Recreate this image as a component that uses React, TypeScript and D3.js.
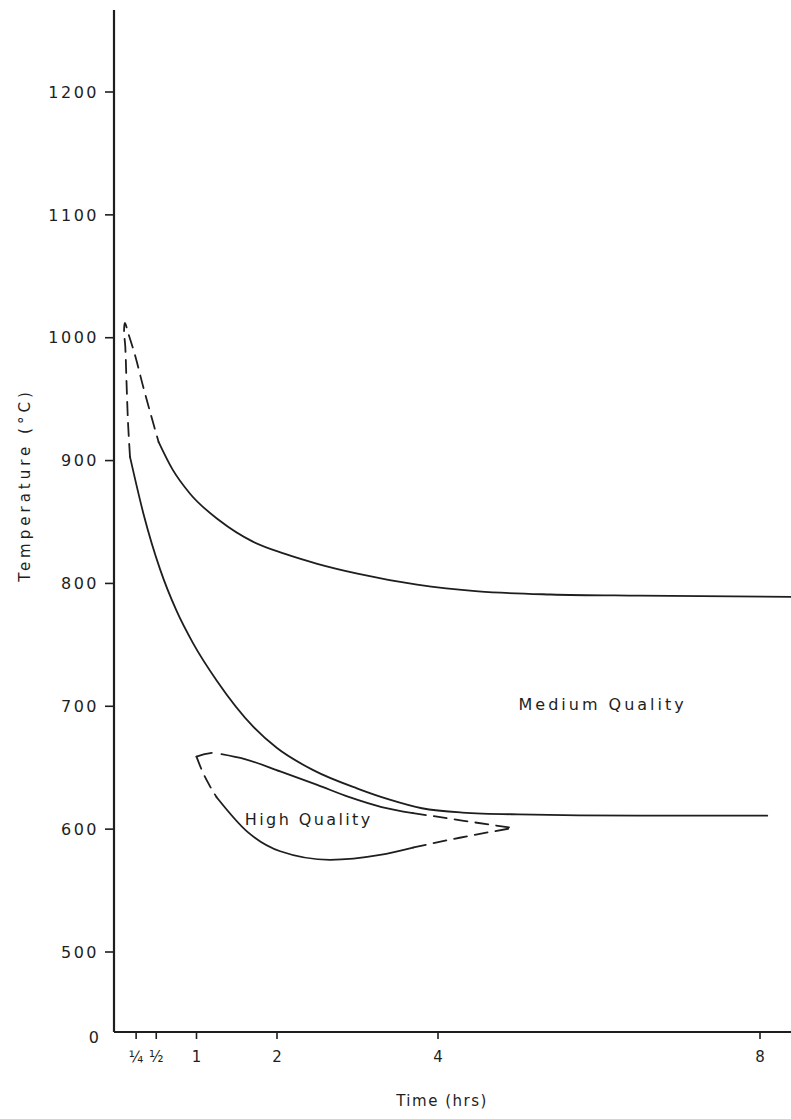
import React from "react";
import * as d3 from "d3";

// ---- data (time in hours, temperature in °C) ----
const xTickValues = [0.25, 0.5, 1, 2, 4, 8];
const xTickLabels = ["¼", "½", "1", "2", "4", "8"];
const yTickValues = [500, 600, 700, 800, 900, 1000, 1100, 1200];

// dashed start of the two boundary curves (joined at the apex)
const apexDashed: [number, number][] = [
  [0.174, 903], [0.15, 930], [0.13, 965], [0.115, 993], [0.1, 1005], [0.11, 1012],
  [0.16, 1002], [0.24, 985], [0.33, 962], [0.43, 938], [0.53, 915],
];
// upper boundary (solid)
const upperCurve: [number, number][] = [
  [0.53, 915], [0.7, 893], [0.92, 873], [1.29, 851], [1.7, 834], [2.1, 824],
  [2.5, 816], [3.0, 808], [3.74, 799], [4.5, 793.5], [5.4, 791], [6.5, 790], [8.4, 789],
];
// lower boundary (solid)
const lowerCurve: [number, number][] = [
  [0.174, 903], [0.34, 857], [0.55, 811], [0.75, 778], [0.96, 751], [1.25, 721],
  [1.71, 683], [2.0, 666], [2.45, 648], [3.0, 633], [3.4, 624], [3.8, 617],
  [4.3, 613.5], [5.0, 612], [6.5, 611], [8.09, 611],
];
// high quality loop
const loopTopDashLeft: [number, number][] = [[1.0, 659], [1.1, 661], [1.19, 662]];
const loopTopSolid: [number, number][] = [
  [1.31, 661], [1.6, 657], [2.04, 647], [2.5, 636], [2.9, 626], [3.3, 618], [3.69, 613],
];
const loopTopDashRight: [number, number][] = [[3.69, 613], [3.9, 611], [4.3, 607], [4.93, 601]];
const loopBottomDashLeft: [number, number][] = [[1.0, 659], [1.06, 649], [1.15, 637], [1.25, 626]];
const loopBottomSolid: [number, number][] = [
  [1.25, 626], [1.63, 598], [2.04, 582], [2.66, 575], [3.28, 579], [3.69, 585],
];
const loopBottomDashRight: [number, number][] = [[3.69, 585], [4.27, 593], [4.93, 601]];

const regionLabels = [
  { text: "Medium Quality", t: 5.0, T: 697, ls: 3 },
  { text: "High Quality", t: 1.6, T: 603, ls: 2.4 },
];

const W = 791;
const H = 1119;
const INK = "#1e1e1e";

export default function App() {
  const x = d3.scaleLinear().domain([0, 8]).range([116, 760]);
  const y = d3.scaleLinear().domain([0, 500, 1200]).range([1032, 952, 92]);
  const axisX = 114;
  const axisY = y(0);

  const smooth = d3
    .line<[number, number]>()
    .x((d) => x(d[0]))
    .y((d) => y(d[1]))
    .curve(d3.curveMonotoneX);
  const free = d3
    .line<[number, number]>()
    .x((d) => x(d[0]))
    .y((d) => y(d[1]))
    .curve(d3.curveCatmullRom.alpha(0.5));

  const font = "'DejaVu Sans', sans-serif";
  const dash = "13 8";

  return (
    <svg
      width={W}
      height={H}
      style={{ position: "absolute", left: 0, top: 0, background: "#fff" }}
      fontFamily={font}
    >
      <rect width={W} height={H} fill="#fff" />
      {/* axes */}
      <line x1={axisX} y1={10} x2={axisX} y2={axisY} stroke={INK} strokeWidth={2.2} />
      <line x1={axisX} y1={axisY} x2={W} y2={axisY} stroke={INK} strokeWidth={2} />

      {/* y ticks */}
      {yTickValues.map((v) => (
        <g key={v}>
          <line x1={axisX - 9} x2={axisX} y1={y(v)} y2={y(v)} stroke={INK} strokeWidth={1.6} />
          <text
            x={99}
            y={y(v)}
            dy="0.36em"
            textAnchor="end"
            fontSize={16}
            letterSpacing={2.5}
            fill={INK}
          >
            {v}
          </text>
        </g>
      ))}
      <text x={99} y={axisY + 5} dy="0.36em" textAnchor="end" fontSize={16} fill={INK}>
        0
      </text>

      {/* x ticks */}
      {xTickValues.map((v, i) => (
        <g key={v}>
          <line x1={x(v)} x2={x(v)} y1={axisY} y2={axisY + 7} stroke={INK} strokeWidth={1.6} />
          <text x={x(v)} y={axisY + 30} textAnchor="middle" fontSize={15} fill={INK}>
            {xTickLabels[i]}
          </text>
        </g>
      ))}

      {/* axis titles */}
      <text x={442} y={1106} textAnchor="middle" fontSize={15} letterSpacing={1.5} fill={INK}>
        Time (hrs)
      </text>
      <text
        transform={`translate(30, 485) rotate(-90)`}
        textAnchor="middle"
        fontSize={15}
        letterSpacing={4}
        fill={INK}
      >
        Temperature (°C)
      </text>

      {/* curves */}
      <g fill="none" stroke={INK} strokeWidth={1.8} strokeLinecap="round">
        <path d={free(apexDashed) || ""} strokeDasharray={dash} />
        <path d={smooth(upperCurve) || ""} />
        <path d={smooth(lowerCurve) || ""} />
        <path d={smooth(loopTopDashLeft) || ""} />
        <path d={smooth(loopTopSolid) || ""} />
        <path d={smooth(loopTopDashRight) || ""} strokeDasharray={dash} />
        <path d={smooth(loopBottomDashLeft) || ""} strokeDasharray={dash} />
        <path d={smooth(loopBottomSolid) || ""} />
        <path d={smooth(loopBottomDashRight) || ""} strokeDasharray={dash} />
      </g>

      {/* region labels */}
      {regionLabels.map((l) => (
        <text
          key={l.text}
          x={x(l.t)}
          y={y(l.T)}
          fontSize={16}
          letterSpacing={l.ls}
          fill={INK}
        >
          {l.text}
        </text>
      ))}
    </svg>
  );
}
